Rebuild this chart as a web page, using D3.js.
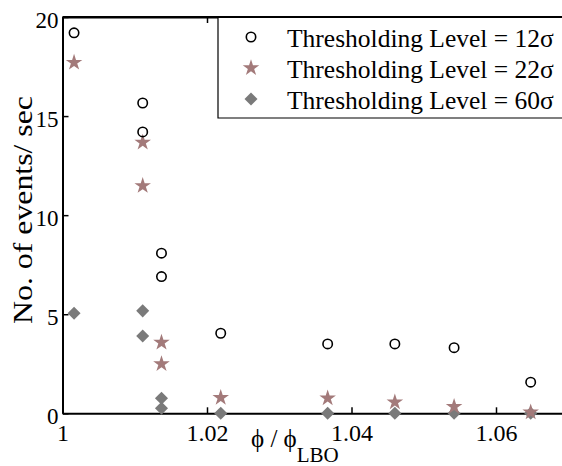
<!DOCTYPE html>
<html>
<head>
<meta charset="utf-8">
<script src="https://cdn.jsdelivr.net/npm/d3@7"></script>
<style>
  html, body { margin: 0; padding: 0; background: #fff; }
  svg { display: block; }
  svg text { font-family: "Liberation Serif", "Times New Roman", serif; }
</style>
</head>
<body>
<svg id="chart" width="562" height="466"></svg>
<script>
// Equivalence ratio normalised by lean blow-off value, and event rates per threshold
const phi12 = [1.0016, 1.0111, 1.0111, 1.0137, 1.0137, 1.0219, 1.0367, 1.0460, 1.0542, 1.0648];
const events12 = [19.2, 15.66, 14.2, 8.08, 6.9, 4.04, 3.5, 3.5, 3.31, 1.57];

const phi22 = [1.0016, 1.0111, 1.0111, 1.0137, 1.0137, 1.0219, 1.0367, 1.0460, 1.0542, 1.0648];
const events22 = [17.7, 13.67, 11.48, 3.57, 2.49, 0.79, 0.76, 0.56, 0.33, 0.05];

const phi60 = [1.0016, 1.0111, 1.0111, 1.0137, 1.0137, 1.0219, 1.0367, 1.0460, 1.0542, 1.0648];
const events60 = [5.05, 5.17, 3.9, 0.76, 0.25, 0, 0, 0, 0, 0];

const seriesNames = ["Thresholding Level = 12σ", "Thresholding Level = 22σ", "Thresholding Level = 60σ"];
const xTicks = [1, 1.02, 1.04, 1.06];
const yTicks = [0, 5, 10, 15, 20];

const FONT = "'Liberation Serif', 'Times New Roman', serif";
const starColor = "#a37a7a";
const diamondColor = "#7a7a7a";

const svg = d3.select("#chart");
const W = 562;
const mLeft = 62.5, mTop = 17, mBottom = 413.3;
const xMax = 1.072;

const x = d3.scaleLinear().domain([1, xMax]).range([mLeft, mLeft + (xMax - 1) * 7225]);
const y = d3.scaleLinear().domain([0, 20]).range([mBottom, mTop]);

const tickFont = 23;

// Boxed axes with inward ticks
const xAxis = d3.axisBottom(x).tickValues(xTicks).tickSizeInner(-6).tickSizeOuter(0)
  .tickFormat(d => d === 1 ? "1" : d3.format(".2f")(d));
const gx = svg.append("g").attr("transform", `translate(0,${mBottom})`).call(xAxis)
  .attr("font-family", FONT).attr("font-size", tickFont);
gx.select(".domain").attr("stroke", "#000").attr("stroke-width", 2);
gx.selectAll(".tick line").attr("stroke", "#000").attr("stroke-width", 1.5);
gx.selectAll(".tick text").style("font-family", FONT).style("font-size", "24px")
  .attr("fill", "#000").attr("y", 28).attr("dy", 0);

const xTop = d3.axisTop(x).tickValues(xTicks).tickSizeInner(-6).tickSizeOuter(0).tickFormat("");
const gxt = svg.append("g").attr("transform", `translate(0,${mTop})`).call(xTop);
gxt.select(".domain").attr("stroke", "#000").attr("stroke-width", 2);
gxt.selectAll(".tick line").attr("stroke", "#000").attr("stroke-width", 1.5);

const yAxis = d3.axisLeft(y).tickValues(yTicks).tickSizeInner(-6).tickSizeOuter(0).tickFormat(d3.format("d"));
const gy = svg.append("g").attr("transform", `translate(${mLeft},0)`).call(yAxis)
  .attr("font-family", FONT).attr("font-size", tickFont);
gy.select(".domain").attr("stroke", "#000").attr("stroke-width", 2);
gy.selectAll(".tick line").attr("stroke", "#000").attr("stroke-width", 1.5);
gy.selectAll(".tick text").style("font-family", FONT).style("font-size", tickFont + "px")
  .attr("fill", "#000").attr("x", -4).attr("dy", "0.45em");

// Axis titles
svg.append("text")
  .attr("transform", `translate(32,210) rotate(-90)`)
  .attr("text-anchor", "middle")
  .attr("textLength", 228).attr("lengthAdjust", "spacingAndGlyphs")
  .style("font-family", FONT).style("font-size", "27px")
  .text("No. of events/ sec");

const xl = svg.append("text").attr("x", 251).attr("y", 447)
  .style("font-family", FONT).style("font-size", "25px");
xl.append("tspan").text("ϕ / ϕ");
xl.append("tspan").attr("dy", 15).style("font-size", "21px").text("LBO");

// Marker symbols
const star = d3.symbol().type(d3.symbolStar).size(85);
const diamond = d3.symbol().type(d3.symbolSquare).size(85);

const plot = svg.append("g");

// 60σ diamonds
plot.selectAll("path.s60").data(d3.zip(phi60, events60)).join("path")
  .attr("class", "s60")
  .attr("d", diamond)
  .attr("transform", d => `translate(${x(d[0])},${y(d[1])}) rotate(45)`)
  .attr("fill", diamondColor);

// 22σ stars
plot.selectAll("path.s22").data(d3.zip(phi22, events22)).join("path")
  .attr("class", "s22")
  .attr("d", star)
  .attr("transform", d => `translate(${x(d[0])},${y(d[1])})`)
  .attr("fill", starColor);

// 12σ open circles
plot.selectAll("circle.s12").data(d3.zip(phi12, events12)).join("circle")
  .attr("class", "s12")
  .attr("cx", d => x(d[0])).attr("cy", d => y(d[1])).attr("r", 4.7)
  .attr("fill", "none").attr("stroke", "#000").attr("stroke-width", 1.6);

// Legend: box runs past the right edge of the view, so only three sides are drawn
const lg = svg.append("g");
const lgX = 218, lgBottom = 118;
lg.append("rect").attr("x", lgX).attr("y", mTop).attr("width", W - lgX).attr("height", lgBottom - mTop)
  .attr("fill", "#fff");
lg.append("path")
  .attr("d", `M${W},${mTop}H${lgX}V${lgBottom}H${W}`)
  .attr("fill", "none").attr("stroke", "#000").attr("stroke-width", 1.2);
const rowsY = [37, 68, 99];
seriesNames.forEach((name, i) => {
  const cy = rowsY[i];
  if (i === 0) {
    lg.append("circle").attr("cx", 251).attr("cy", cy).attr("r", 4.7)
      .attr("fill", "none").attr("stroke", "#000").attr("stroke-width", 1.6);
  } else if (i === 1) {
    lg.append("path").attr("d", star).attr("transform", `translate(251,${cy})`).attr("fill", starColor);
  } else {
    lg.append("path").attr("d", diamond).attr("transform", `translate(251,${cy}) rotate(45)`).attr("fill", diamondColor);
  }
  lg.append("text").attr("x", 287).attr("y", cy + 10)
    .style("font-family", FONT).style("font-size", "25.5px")
    .text(name);
});
// Redraw the top frame line over the legend fill
svg.append("line").attr("x1", mLeft).attr("x2", W).attr("y1", mTop).attr("y2", mTop)
  .attr("stroke", "#000").attr("stroke-width", 2);
</script>
</body>
</html>
